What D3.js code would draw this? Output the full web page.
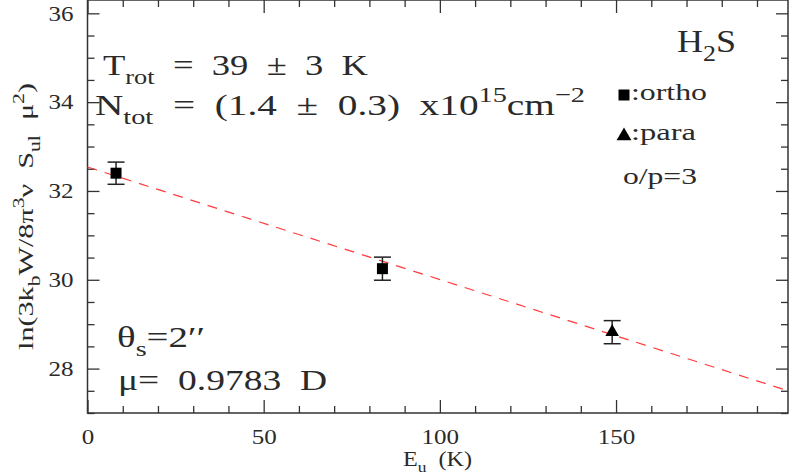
<!DOCTYPE html>
<html>
<head>
<meta charset="utf-8">
<script src="https://cdn.jsdelivr.net/npm/d3@7"></script>
<style>
  body { margin: 0; background: #fff; }
  svg { display: block; }
  text { font-family: "Liberation Serif", "DejaVu Serif", "Times New Roman", Times, serif; fill: #2a2a2a; white-space: pre; }
</style>
</head>
<body>
<div id="chart"></div>
<script>
// rotation diagram values
var eu = [8.1, 83.7, 148.9];          // E_u (K)
var lnN = [32.40, 30.25, 28.82];      // ln(3kW/8pi^3 nu S mu^2)
var errN = [0.25, 0.26, 0.26];
var kind = ["ortho", "ortho", "para"];
var fitX = [0, 198.8];                // dashed fit line
var fitY = [32.54, 27.50];
var xMajor = [0, 50, 100, 150];
var yMajor = [28, 30, 32, 34, 36];

var width = 789, height = 475;
var axisColor = "#333";

var svg = d3.select("#chart").append("svg")
  .attr("width", width)
  .attr("height", height);

var x = d3.scaleLinear().domain([0, 198.8]).range([87.5, 788]);
var y = d3.scaleLinear().domain([27, 36.3]).range([413, 0]);

var xMinor = d3.range(10, 199, 10).filter(function(v) { return v % 50 !== 0; });
var yMinor = d3.range(27, 36.3, 0.5).filter(function(v) { return v % 2 !== 0; });

// axes, ticks pointing into the box like pgplot
function styleAxis(g) {
  g.attr("font-family", null).attr("font-size", null);
  g.select(".domain").remove();
  g.selectAll("line").attr("stroke", axisColor).attr("stroke-width", 1.3);
  g.selectAll("text")
    .attr("fill", "#2a2a2a")
    .attr("font-size", "21px")
    .attr("lengthAdjust", "spacingAndGlyphs")
    .attr("textLength", function(d) { return String(d).length * 12.5; });
}

svg.append("g").attr("transform", "translate(0,413)")
  .call(d3.axisBottom(x).tickValues(xMajor).tickSizeInner(-13).tickSizeOuter(0).tickPadding(16).tickFormat(d3.format("d")))
  .call(styleAxis);
svg.append("g").attr("transform", "translate(0,413)")
  .call(d3.axisBottom(x).tickValues(xMinor).tickSizeInner(-7).tickSizeOuter(0).tickFormat(""))
  .call(styleAxis);
svg.append("g").attr("transform", "translate(0,0)")
  .call(d3.axisTop(x).tickValues(xMajor).tickSizeInner(-13).tickSizeOuter(0).tickFormat(""))
  .call(styleAxis);
svg.append("g").attr("transform", "translate(0,0)")
  .call(d3.axisTop(x).tickValues(xMinor).tickSizeInner(-7).tickSizeOuter(0).tickFormat(""))
  .call(styleAxis);

svg.append("g").attr("transform", "translate(87.5,0)")
  .call(d3.axisLeft(y).tickValues(yMajor).tickSizeInner(-12).tickSizeOuter(0).tickPadding(14).tickFormat(d3.format("d")))
  .call(styleAxis);
svg.append("g").attr("transform", "translate(87.5,0)")
  .call(d3.axisLeft(y).tickValues(yMinor).tickSizeInner(-7).tickSizeOuter(0).tickFormat(""))
  .call(styleAxis);
svg.append("g").attr("transform", "translate(788,0)")
  .call(d3.axisRight(y).tickValues(yMajor).tickSizeInner(-12).tickSizeOuter(0).tickFormat(""))
  .call(styleAxis);
svg.append("g").attr("transform", "translate(788,0)")
  .call(d3.axisRight(y).tickValues(yMinor).tickSizeInner(-7).tickSizeOuter(0).tickFormat(""))
  .call(styleAxis);

// frame
svg.append("rect")
  .attr("x", x(0)).attr("y", y(36.3))
  .attr("width", x(198.8) - x(0)).attr("height", y(27) - y(36.3))
  .attr("fill", "none").attr("stroke", axisColor).attr("stroke-width", 1.5);

// fit line
svg.append("line")
  .attr("x1", x(fitX[0])).attr("y1", y(fitY[0]))
  .attr("x2", x(fitX[1])).attr("y2", y(fitY[1]))
  .attr("stroke", "#ff3b3b").attr("stroke-width", 1.2)
  .attr("stroke-dasharray", "10,8");

// points with error bars
var pts = eu.map(function(v, i) { return { x: v, y: lnN[i], e: errN[i], k: kind[i] }; });

var bars = svg.selectAll("g.pt").data(pts).enter().append("g").attr("class", "pt");
bars.append("line")
  .attr("x1", d => x(d.x)).attr("x2", d => x(d.x))
  .attr("y1", d => y(d.y + d.e)).attr("y2", d => y(d.y - d.e))
  .attr("stroke", "#222").attr("stroke-width", 1.5);
bars.selectAll("line.cap").data(d => [d.y + d.e, d.y - d.e].map(v => ({ x: d.x, v: v })))
  .enter().append("line").attr("class", "cap")
  .attr("x1", d => x(d.x) - 8.5).attr("x2", d => x(d.x) + 8.5)
  .attr("y1", d => y(d.v)).attr("y2", d => y(d.v))
  .attr("stroke", "#222").attr("stroke-width", 1.5);

var sq = d3.symbol().type(d3.symbolSquare).size(121);
var tri = d3.symbol().type(d3.symbolTriangle).size(80);
var triBig = d3.symbol().type(d3.symbolTriangle).size(95);
bars.append("path")
  .attr("transform", d => "translate(" + x(d.x) + "," + y(d.y) + ")")
  .attr("d", d => d.k === "ortho" ? sq() : tri())
  .attr("fill", "#000");

// rich text helper: segments with sub / sup, stretched to the width seen in the plot
function rich(px, py, size, segs, len, anchor) {
  var t = svg.append("text")
    .attr("x", px).attr("y", py)
    .attr("font-size", size + "px")
    .attr("text-anchor", anchor || "start");
  if (len) t.attr("textLength", len).attr("lengthAdjust", "spacingAndGlyphs");
  var shift = 0;
  segs.forEach(function(s) {
    var target = s.sub ? size * 0.3 : s.sup ? -size * 0.42 : 0;
    t.append("tspan")
      .attr("dy", target - shift)
      .attr("font-size", (s.sub || s.sup ? size * 0.72 : size) + "px")
      .text(s.t);
    shift = target;
  });
  return t;
}

rich(103, 75, 30, [{ t: "T" }, { t: "rot", sub: true }, { t: "  =  39  ±  3  K" }], 265);
rich(95, 115, 30, [{ t: "N" }, { t: "tot", sub: true }, { t: "  =  (1.4  ±  0.3)  x10" }, { t: "15", sup: true }, { t: "cm" }, { t: "−2", sup: true }], 490);
rich(117, 347, 30, [{ t: "θ", }, { t: "s", sub: true }, { t: "=2′′" }], 88);
rich(118, 390, 30, [{ t: "μ=  0.9783  D" }], 209);
rich(677, 52, 31, [{ t: "H" }, { t: "2", sub: true }, { t: "S" }], 59);

// legend
svg.append("path")
  .attr("transform", "translate(624,95)")
  .attr("d", sq()).attr("fill", "#000");
rich(631, 100, 23, [{ t: ":ortho" }], 76);
svg.append("path")
  .attr("transform", "translate(624,136)")
  .attr("d", triBig()).attr("fill", "#000");
rich(631, 140, 23, [{ t: ":para" }], 65);
rich(623, 184, 23, [{ t: "o/p=3" }], 74);

// axis titles
rich(403, 466, 21, [{ t: "E" }, { t: "u", sub: true }, { t: "  (K)" }], 69);
var yl = rich(0, 0, 22, [{ t: "ln(3k" }, { t: "b", sub: true }, { t: "W/8π" }, { t: "3", sup: true }, { t: "ν  S" }, { t: "ul", sub: true }, { t: "  μ" }, { t: "2", sup: true }, { t: ")" }], 267);
yl.attr("transform", "translate(33,350) rotate(-90)");
</script>
</body>
</html>
